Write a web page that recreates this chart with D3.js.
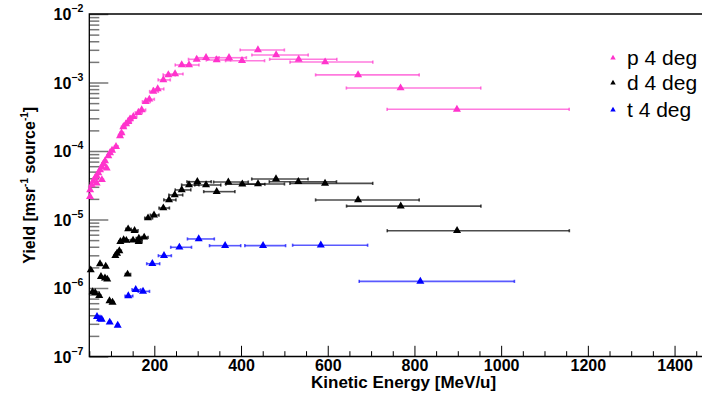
<!DOCTYPE html>
<html><head><meta charset="utf-8">
<script src="https://cdn.jsdelivr.net/npm/d3@7"></script>
<style>body{margin:0;background:#fff;} svg{display:block;}</style>
</head><body>
<svg id="c" width="702" height="399"></svg>
<script>
// ---- data ----
const pE   = [51.7,52.0,55.6,59.3,63.2,67.1,67,70.8,74.7,78.7,79,82.4,86.3,90,93.9,97.8,102.4,111.6,120.9,124.3,128.5,134.7,140.0,143.9,151.6,163.1,170.9,180.2,188.5,197.7,207.8,220.8,232.3,247.8,263.2,280.0,297.8,319.3,343.9,372.3,402.3,439,481,533,594,670,768,898];
const pY   = [2.15e-5,2.70e-5,3.19e-5,3.65e-5,4.04e-5,4.32e-5,3.4e-5,4.77e-5,5.28e-5,5.84e-5,3.8e-5,6.46e-5,7.14e-5,5.6e-5,8.45e-5,9.35e-5,1.02e-4,1.16e-4,1.66e-4,1.83e-4,2.24e-4,2.48e-4,2.68e-4,2.93e-4,3.17e-4,3.62e-4,3.97e-4,5.25e-4,5.69e-4,7.40e-4,8.04e-4,1.09e-3,1.29e-3,1.33e-3,1.80e-3,1.80e-3,2.18e-3,2.30e-3,2.13e-3,2.30e-3,2.08e-3,2.98e-3,2.52e-3,2.18e-3,1.99e-3,1.29e-3,8.3e-4,4.06e-4];
const pLo  = [2,2,2,2,2,2,2,2.5,2.5,2.5,2.5,2.5,2.5,2.5,2.5,2.5,3.4,3.4,3.4,3.4,4.2,4.2,5,5,6,7,7,7.6,8.5,8.5,10,12,12,13.6,15,17,19,22,24,30,38,41,56,67,81,98,125,161];
const pHi  = [2,2,2,2,2,2,2,3.5,3.5,3.5,3.5,3.5,3.5,3.5,3.5,3.5,4.6,4.6,4.6,4.6,5.8,5.8,7,7,8,9,9,10.4,11.5,11.5,14,16,16,18.4,21,23,25,30,32,40,52,61,74,88,110,141,185,259];

const dE   = [53.3,74.7,87.9,76.9,86.1,91.4,57.5,63.6,72.9,96.6,103.6,138.3,110.1,114.0,119.3,121.6,129.2,135.4,150.9,163.8,139.6,154.4,164.3,176.6,185.5,199.3,220.8,233.9,247.1,263.2,280.0,299.2,319.3,343.9,370.7,403.0,439.2,480.7,532.2,593.8,670,768.4,898.3];
const dY   = [1.83e-6,2.24e-6,2.07e-6,1.46e-6,1.39e-6,1.34e-6,8.75e-7,8.55e-7,7.73e-7,6.46e-7,6.18e-7,1.585e-6,2.96e-6,3.21e-6,3.47e-6,4.74e-6,5.02e-6,4.93e-6,4.97e-6,4.74e-6,7.26e-6,6.86e-6,5.31e-6,5.50e-6,1.05e-5,1.16e-5,1.47e-5,1.93e-5,2.28e-5,2.70e-5,3.19e-5,3.56e-5,3.19e-5,2.55e-5,3.52e-5,3.27e-5,3.30e-5,3.90e-5,3.56e-5,3.37e-5,1.93e-5,1.57e-5,6.86e-6];
const dLo  = [2,2.5,2.5,2.5,2.5,2.5,2,2,2.5,2.5,2.5,5,2.5,2.5,3.4,3.4,3.4,4.2,5,6,5,6,6,7,7.6,8.5,10,12,13.6,15,17,24,26,30,34,38,41,56,67,81,98,125,161];
const dHi  = [2,3.5,3.5,3.5,3.5,3.5,2,2,3.5,3.5,3.5,7,3.5,3.5,4.6,4.6,4.6,5.8,7,8,7,8,8,9,10.4,11.5,14,16,18.4,21,23,32,34,42,46,52,61,74,88,110,141,185,259];

const tE   = [67.8,74.7,78.6,97.1,115.5,140.0,157.1,173.9,195.4,222.3,257.8,302.4,363.3,450.8,584.0,813.6];
const tY   = [3.81e-7,3.53e-7,3.49e-7,3.16e-7,2.85e-7,7.64e-7,9.44e-7,8.93e-7,2.26e-6,2.96e-6,3.93e-6,5.20e-6,4.15e-6,4.15e-6,4.21e-6,1.25e-6];
const tLo  = [2,2,2.5,2.5,2.5,7.6,8.5,11,13,13,20,26,36,42,65,141];
const tHi  = [2,2,3.5,3.5,3.5,10.4,11.5,15,17,17,28,36,36,52,108,217];

const seriesNames  = ["p 4 deg","d 4 deg","t 4 deg"];
const seriesColors = ["#ff33cc","#000000","#0000ff"];
const xTickValues  = [200,400,600,800,1000,1200,1400];
const yTickExponents = [-2,-3,-4,-5,-6,-7];
const xTitle = "Kinetic Energy [MeV/u]";

// ---- drawing ----
const svg = d3.select("#c");
const L = 89.3, R = 717.9, T = 14, B = 356.5;
const x = d3.scaleLinear().domain([50,1500]).range([L,R]);
const y = d3.scaleLog().domain([1e-7,1e-2]).range([B,T]);
const FONT = "'Liberation Sans', Arial, Helvetica, sans-serif";

// x axis minor ticks
const xMinor = d3.range(50,1501,50).filter(v => !xTickValues.includes(v));
svg.append("g").attr("transform",`translate(0,${B})`)
  .call(d3.axisBottom(x).tickValues(xMinor).tickSize(-5.3).tickFormat(""))
  .call(g=>g.select(".domain").remove())
  .call(g=>g.selectAll("line").attr("stroke","#000").attr("stroke-width",1));
// x axis major ticks + labels
svg.append("g").attr("transform",`translate(0,${B})`)
  .call(d3.axisBottom(x).tickValues(xTickValues).tickSize(-10.7).tickPadding(3).tickFormat(d3.format("d")))
  .call(g=>g.select(".domain").remove())
  .call(g=>g.selectAll("line").attr("stroke","#000").attr("stroke-width",1))
  .call(g=>g.selectAll("text").attr("font-family",FONT).attr("font-weight","bold").attr("font-size",16).attr("fill","#000"));

// y axis minor ticks
const yMinor = [];
for (let e=-7;e<-2;e++) for (let m=2;m<=9;m++) yMinor.push(m*Math.pow(10,e));
svg.append("g").attr("transform",`translate(${L},0)`)
  .call(d3.axisLeft(y).tickValues(yMinor).tickSize(-10).tickFormat(""))
  .call(g=>g.select(".domain").remove())
  .call(g=>g.selectAll("line").attr("stroke","#777").attr("stroke-width",1.5));
// y axis major ticks + labels
const yMajor = yTickExponents.map(e=>Math.pow(10,e));
const yAx = svg.append("g").attr("transform",`translate(${L},0)`)
  .call(d3.axisLeft(y).tickValues(yMajor).tickSize(-19).tickPadding(6).tickFormat(""))
  .call(g=>g.select(".domain").remove())
  .call(g=>g.selectAll("line").attr("stroke","#777").attr("stroke-width",1.5));
yAx.selectAll(".tick text").each(function(d,i){
  const t = d3.select(this).attr("font-family",FONT).attr("font-weight","bold").attr("font-size",16).attr("fill","#000").attr("dy","0.36em");
  t.append("tspan").text("10");
  t.append("tspan").attr("font-size",10.5).attr("dy","-0.75em").text("\u2212"+Math.abs(yTickExponents[i]));
});

// frame
svg.append("path").attr("d",`M${R},${T}H${L}V${B}H${R}`).attr("fill","none").attr("stroke","#000").attr("stroke-width",1.3);

// axis titles
svg.append("text").attr("x",(L+R)/2).attr("y",388).attr("text-anchor","middle")
  .attr("font-family",FONT).attr("font-weight","bold").attr("font-size",17).text(xTitle);
const yt = svg.append("text").attr("transform",`translate(35,${(T+B)/2}) rotate(-90)`).attr("text-anchor","middle")
  .attr("font-family",FONT).attr("font-weight","bold").attr("font-size",16);
yt.append("tspan").text("Yield [msr");
yt.append("tspan").attr("font-size",10).attr("dy","-0.7em").text("-1");
yt.append("tspan").attr("dy","0.45em").text(" source");
yt.append("tspan").attr("font-size",10).attr("dy","-0.7em").text("-1");
yt.append("tspan").attr("dy","0.45em").text("]");

// series
const series = [
  {E:pE, Y:pY, Lo:pLo, Hi:pHi},
  {E:dE, Y:dY, Lo:dLo, Hi:dHi},
  {E:tE, Y:tY, Lo:tLo, Hi:tHi}
];
const tri = d3.symbol().type(d3.symbolTriangle).size(28);
series.forEach((s,si)=>{
  const col = seriesColors[si];
  const pts = s.E.map((e,i)=>({e, v:s.Y[i], lo:s.Lo[i], hi:s.Hi[i]}));
  const g = svg.append("g");
  const bars = g.append("g").attr("stroke",col).attr("stroke-opacity",si===1?0.7:0.65).attr("stroke-width",1.6);
  bars.selectAll("line.h").data(pts).join("line").attr("class","h")
    .attr("x1",d=>x(d.e-d.lo)).attr("x2",d=>x(d.e+d.hi)).attr("y1",d=>y(d.v)).attr("y2",d=>y(d.v));
  bars.selectAll("line.c1").data(pts).join("line").attr("class","c1")
    .attr("x1",d=>x(d.e-d.lo)).attr("x2",d=>x(d.e-d.lo)).attr("y1",d=>y(d.v)-1.6).attr("y2",d=>y(d.v)+1.6);
  bars.selectAll("line.c2").data(pts).join("line").attr("class","c2")
    .attr("x1",d=>x(d.e+d.hi)).attr("x2",d=>x(d.e+d.hi)).attr("y1",d=>y(d.v)-1.6).attr("y2",d=>y(d.v)+1.6);
  g.append("g").selectAll("path").data(pts).join("path")
    .attr("d",tri).attr("transform",d=>`translate(${x(d.e)},${y(d.v)})`).attr("fill",col);
});

// legend
const legY = [58,83,110];
seriesNames.forEach((n,i)=>{
  svg.append("path").attr("d",d3.symbol().type(d3.symbolTriangle).size(13)())
    .attr("transform",`translate(613,${legY[i]})`).attr("fill",seriesColors[i]);
  svg.append("text").attr("x",627).attr("y",legY[i]).attr("dy","0.35em")
    .attr("font-family",FONT).attr("font-size",21).attr("fill","#000").text(n);
});
</script>
</body></html>
